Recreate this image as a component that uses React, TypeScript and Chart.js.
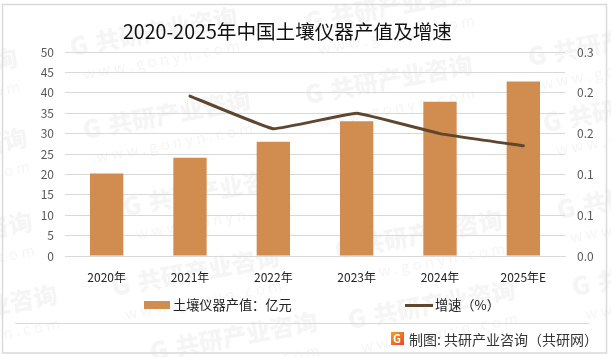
import React, { useEffect, useRef } from "react";
import { Chart, registerables } from "chart.js";

Chart.register(...registerables);

const categories = ["2020年", "2021年", "2022年", "2023年", "2024年", "2025年E"];
const outputValue = [20.2, 24.1, 28, 33, 37.8, 42.8];
const growthRate = [null, 0.196, 0.156, 0.175, 0.15, 0.135];
const leftTicks = ["0", "5", "10", "15", "20", "25", "30", "35", "40", "45", "50"];
const rightTicks = ["0.0", "0.1", "0.1", "0.2", "0.2", "0.3"];
const chartTitle = "2020-2025年中国土壤仪器产值及增速";
const barLabel = "土壤仪器产值：亿元";
const lineLabel = "增速（%）";
const sourceText = "制图: 共研产业咨询（共研网）";
const watermarkName = "共研产业咨询";
const watermarkUrl = "w w w . g o n y n . c o m";
const watermarkSpots = [
  [-150, 88], [70, 47], [305, 22], [528, 57],
  [-140, 168], [83, 130], [305, 95], [543, 123],
  [-135, 252], [123, 207], [335, 250], [557, 210],
  [-110, 325], [112, 287], [348, 320], [572, 287], [150, 352],
];

const FONT = '"Noto Sans CJK SC", "Noto Sans", sans-serif';
const BAR = "#D18C4F";
const LINE = "#5F4630";
const GRID = "#D9D9D9";

const decor = {
  id: "decor",
  beforeDraw(chart: any) {
    const c = chart.ctx;
    c.save();
    c.fillStyle = "#fff";
    c.fillRect(0, 0, 611, 357);
    for (const [x, y] of watermarkSpots) {
      c.save();
      c.translate(x, y);
      c.rotate((-10.5 * Math.PI) / 180);
      c.fillStyle = "#F5F5F5";
      c.font = `900 25px ${FONT}`;
      c.textBaseline = "middle";
      c.fillText("G", 0, 0);
      c.font = `900 24px ${FONT}`;
      c.fillText(watermarkName, 26, 0);
      c.font = `15px ${FONT}`;
      c.fillText(watermarkUrl, 8, 29);
      c.restore();
    }
    c.restore();
  },
  afterDraw(chart: any) {
    const c = chart.ctx;
    c.save();
    // frame and footer rule
    c.strokeStyle = GRID;
    c.lineWidth = 1.5;
    c.strokeRect(2.5, 4.5, 604, 348.5);
    c.lineWidth = 1;
    c.beginPath();
    c.moveTo(15, 323.5);
    c.lineTo(589, 323.5);
    c.stroke();
    // title
    c.fillStyle = "#111";
    c.textBaseline = "middle";
    c.textAlign = "left";
    c.font = `19.6px ${FONT}`;
    c.fillText(chartTitle, 123, 32);
    // legend
    c.fillStyle = BAR;
    c.fillRect(144, 301, 26, 8);
    c.fillStyle = "#222";
    c.font = `13.2px ${FONT}`;
    c.fillText(barLabel, 173, 305);
    c.strokeStyle = LINE;
    c.lineWidth = 3;
    c.beginPath();
    c.moveTo(405, 305.5);
    c.lineTo(433, 305.5);
    c.stroke();
    c.fillText(lineLabel, 435, 305);
    // footer logo and text
    const g = c.createLinearGradient(391, 332, 404, 345);
    g.addColorStop(0, "#F7A11A");
    g.addColorStop(1, "#E8452C");
    c.fillStyle = g;
    c.fillRect(391, 332, 13, 13);
    c.fillStyle = "#fff";
    c.font = `bold 11px ${FONT}`;
    c.fillText("G", 393, 338.5);
    c.fillStyle = "#333";
    c.font = `14px ${FONT}`;
    c.fillText(sourceText, 409, 340);
    c.restore();
  },
};

export default function App() {
  const ref = useRef<HTMLCanvasElement>(null);
  useEffect(() => {
    const chart = new Chart(ref.current!, {
      type: "bar",
      data: {
        labels: categories,
        datasets: [
          {
            type: "line",
            label: lineLabel,
            data: growthRate,
            yAxisID: "y1",
            borderColor: LINE,
            borderWidth: 3,
            borderCapStyle: "round",
            tension: 0.08,
            pointRadius: 0,
            order: 1,
          },
          {
            type: "bar",
            label: barLabel,
            data: outputValue,
            yAxisID: "y",
            backgroundColor: BAR,
            categoryPercentage: 1,
            barPercentage: 0.4,
            order: 2,
          },
        ],
      } as any,
      options: {
        responsive: false,
        animation: false,
        layout: { padding: { top: 52, left: 0, right: 0, bottom: 0 } },
        plugins: { legend: { display: false }, title: { display: false }, tooltip: { enabled: false } },
        scales: {
          x: {
            grid: { display: false },
            border: { color: GRID },
            afterFit(a: any) { a.height = 101; },
            ticks: { color: "#222", font: { family: FONT, size: 12 }, padding: 6, maxRotation: 0 },
          },
          y: {
            min: 0,
            max: 50,
            afterFit(a: any) { a.width = 65; },
            grid: { color: GRID, drawTicks: false },
            border: { display: false },
            ticks: {
              stepSize: 5,
              padding: 11,
              color: "#595959",
              font: { family: FONT, size: 12 },
              callback: (_: any, i: number) => leftTicks[i],
            },
          },
          y1: {
            position: "right",
            min: 0,
            max: 0.25,
            afterFit(a: any) { a.width = 46; },
            grid: { display: false, drawTicks: false },
            border: { display: false },
            ticks: {
              stepSize: 0.05,
              padding: 12,
              color: "#595959",
              font: { family: FONT, size: 12 },
              callback: (_: any, i: number) => rightTicks[i],
            },
          },
        },
      },
      plugins: [decor],
    } as any);
    return () => chart.destroy();
  }, []);
  return (
    <div style={{ position: "absolute", left: 0, top: 0, width: 611, height: 357 }}>
      <canvas ref={ref} width={611} height={357} style={{ display: "block" }} />
    </div>
  );
}
